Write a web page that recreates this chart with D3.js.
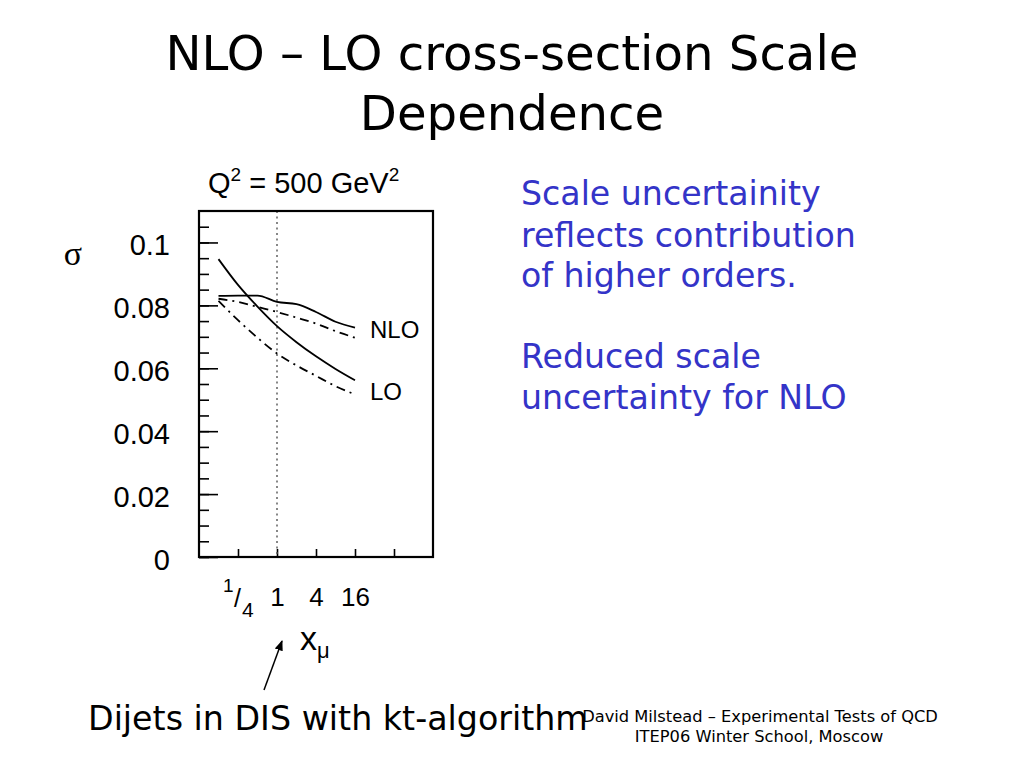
<!DOCTYPE html>
<html>
<head>
<meta charset="utf-8">
<script src="https://cdn.jsdelivr.net/npm/d3@7"></script>
<style>
  html, body { margin: 0; padding: 0; background: #fff; }
  svg { display: block; }
</style>
</head>
<body>
<div id="container"></div>
<script>
// NLO - LO cross-section scale dependence (dijets in DIS, Q^2 = 500 GeV^2)

// ---------------------------------------------------------------------------
// Data
// ---------------------------------------------------------------------------
const xMu       = [1 / 8, 1 / 4, 1 / 2, 1, 2, 4, 8, 16];
const nloSolid  = [0.0830, 0.0831, 0.0831, 0.0811, 0.0804, 0.0779, 0.0748, 0.0729];
const nloDashed = [0.0821, 0.0811, 0.0795, 0.0779, 0.0761, 0.0742, 0.0718, 0.0697];
const loSolid   = [0.0947, 0.0865, 0.0796, 0.0734, 0.0683, 0.0638, 0.0598, 0.0562];
const loDashed  = [0.0814, 0.0753, 0.0697, 0.0647, 0.0609, 0.0576, 0.0543, 0.0517];

const xTicks      = [1 / 4, 1, 4, 16, 64];
const xTickLabels = ['1/4', '1', '4', '16', ''];
const yMajorTicks = [0, 0.02, 0.04, 0.06, 0.08, 0.1];
const yMinorTicks = [0, 0.005, 0.01, 0.015, 0.02, 0.025, 0.03, 0.035, 0.04, 0.045, 0.05,
                     0.055, 0.06, 0.065, 0.07, 0.075, 0.08, 0.085, 0.09, 0.095, 0.1, 0.105];

const blueLines = ['Scale uncertainity', 'reflects contribution', 'of higher orders.',
                   '', 'Reduced scale', 'uncertainty for NLO'];

// ---------------------------------------------------------------------------
// Helpers
// ---------------------------------------------------------------------------
const COMIC = '"Comic Sans MS", "DejaVu Sans", sans-serif';
const HELV  = '"Liberation Sans", Arial, sans-serif';

// shrink/grow a text node's font size so it spans the given width
function fitWidth(sel, target) {
  const w = sel.node().getComputedTextLength();
  const fs = parseFloat(sel.attr('font-size'));
  const size = fs * target / w;
  sel.attr('font-size', size);
  return size;
}

// ---------------------------------------------------------------------------
// Canvas
// ---------------------------------------------------------------------------
const W = 1024, H = 768;
const svg = d3.select('#container').append('svg')
  .attr('width', W).attr('height', H);

// ── Title ─────────────────────────────────────────────────────────────────
const t1 = svg.append('text')
  .attr('x', 512).attr('y', 70)
  .attr('text-anchor', 'middle')
  .attr('font-family', COMIC).attr('font-size', 44)
  .attr('fill', '#000')
  .text('NLO \u2013 LO cross-section Scale');
const titleSize = fitWidth(t1, 693);
svg.append('text')
  .attr('x', 512).attr('y', 130)
  .attr('text-anchor', 'middle')
  .attr('font-family', COMIC).attr('font-size', titleSize)
  .attr('fill', '#000')
  .text('Dependence');

// ── Plot frame & scales ──────────────────────────────────────────────────
const plot = { left: 199, right: 433, top: 211, bottom: 557 };

const x = d3.scaleLog().base(2)
  .domain([1 / 16, 256])
  .range([plot.left, plot.right]);

const y = d3.scaleLinear()
  .domain([0, 0.11])
  .range([plot.bottom, plot.top]);

// minor y ticks (inward, no labels)
const yMinor = svg.append('g')
  .attr('transform', `translate(${plot.left},0)`)
  .call(d3.axisLeft(y).tickValues(yMinorTicks).tickSize(-10).tickFormat(''));
yMinor.select('.domain').remove();
yMinor.selectAll('line').attr('stroke', '#000').attr('stroke-width', 1.6);

// major y ticks with labels
const yMajor = svg.append('g')
  .attr('transform', `translate(${plot.left},0)`)
  .call(d3.axisLeft(y).tickValues(yMajorTicks).tickSize(-19).tickPadding(29)
    .tickFormat(d => d === 0 ? '0' : String(+d.toFixed(2))));
yMajor.select('.domain').remove();
yMajor.selectAll('line').attr('stroke', '#000').attr('stroke-width', 1.6);
yMajor.selectAll('text')
  .attr('font-family', HELV).attr('font-size', 29)
  .attr('fill', '#000').attr('dy', '0.42em');

// x ticks
const xAxis = svg.append('g')
  .attr('transform', `translate(0,${plot.bottom})`)
  .call(d3.axisBottom(x).tickValues(xTicks).tickSize(-8).tickPadding(31)
    .tickFormat((d, i) => (xTickLabels[i] === '1/4' ? '' : xTickLabels[i])));
xAxis.select('.domain').remove();
xAxis.selectAll('line').attr('stroke', '#000').attr('stroke-width', 1.6);
xAxis.selectAll('text')
  .attr('font-family', HELV).attr('font-size', 26).attr('fill', '#000');

// the 1/4 label as a built-up fraction
const qx = x(1 / 4);
const frac = svg.append('g')
  .attr('font-family', HELV).attr('fill', '#000');
frac.append('text').attr('x', qx - 15).attr('y', 592).attr('font-size', 19).text('1');
frac.append('text').attr('x', qx - 4).attr('y', 607).attr('font-size', 25).text('/');
frac.append('text').attr('x', qx + 4).attr('y', 617).attr('font-size', 21).text('4');

// dotted line at x_mu = 1
svg.append('line')
  .attr('x1', x(1)).attr('x2', x(1))
  .attr('y1', plot.top).attr('y2', plot.bottom)
  .attr('stroke', '#555').attr('stroke-width', 1.4)
  .attr('stroke-dasharray', '2,3.5');

// frame
svg.append('rect')
  .attr('x', plot.left).attr('y', plot.top)
  .attr('width', plot.right - plot.left).attr('height', plot.bottom - plot.top)
  .attr('fill', 'none').attr('stroke', '#000').attr('stroke-width', 2.2);

// ── Curves ───────────────────────────────────────────────────────────────
const line = d3.line()
  .x(d => x(d[0]))
  .y(d => y(d[1]))
  .curve(d3.curveMonotoneX);

const curves = [
  { values: nloSolid,  dash: null },
  { values: nloDashed, dash: '9,5,2,5' },
  { values: loSolid,   dash: null },
  { values: loDashed,  dash: '9,5,2,5' },
];

curves.forEach(c => {
  svg.append('path')
    .datum(xMu.map((xv, i) => [xv, c.values[i]]))
    .attr('d', line)
    .attr('fill', 'none')
    .attr('stroke', '#000')
    .attr('stroke-width', 1.8)
    .attr('stroke-dasharray', c.dash);
});

// curve labels
svg.append('text')
  .attr('x', 370).attr('y', 338)
  .attr('font-family', HELV).attr('font-size', 24).attr('fill', '#000')
  .text('NLO');
svg.append('text')
  .attr('x', 370).attr('y', 400)
  .attr('font-family', HELV).attr('font-size', 24).attr('fill', '#000')
  .text('LO');

// header above the frame
const q = svg.append('text')
  .attr('x', 208).attr('y', 193)
  .attr('font-family', HELV).attr('font-size', 29).attr('fill', '#000');
q.append('tspan').text('Q');
q.append('tspan').attr('font-size', 19).attr('dy', -12).text('2');
q.append('tspan').attr('dy', 12).text(' = 500 GeV');
q.append('tspan').attr('font-size', 19).attr('dy', -12).text('2');

// axis titles
svg.append('text')
  .attr('x', 73).attr('y', 265)
  .attr('text-anchor', 'middle')
  .attr('font-family', '"Liberation Serif", "Times New Roman", serif')
  .attr('font-size', 34).attr('fill', '#000')
  .text('\u03c3');

const xl = svg.append('text')
  .attr('x', 300).attr('y', 650)
  .attr('font-family', HELV).attr('font-size', 34).attr('fill', '#000');
xl.append('tspan').text('x');
xl.append('tspan').attr('font-size', 22).attr('dy', 8).text('\u03bc');

// arrow pointing at x_mu = 1
const defs = svg.append('defs');
defs.append('marker')
  .attr('id', 'arrowhead')
  .attr('viewBox', '0 0 10 10')
  .attr('refX', 9).attr('refY', 5)
  .attr('markerWidth', 7).attr('markerHeight', 7)
  .attr('orient', 'auto')
  .append('path')
  .attr('d', 'M0,1 L10,5 L0,9 Z')
  .attr('fill', '#000');
svg.append('line')
  .attr('x1', 264).attr('y1', 690)
  .attr('x2', 282).attr('y2', 641)
  .attr('stroke', '#000').attr('stroke-width', 1.5)
  .attr('marker-end', 'url(#arrowhead)');

// ── Blue commentary ──────────────────────────────────────────────────────
const blue = svg.append('g')
  .attr('font-family', COMIC).attr('fill', '#3434c8');
const blueBase = [205, 247, 287, 0, 368, 409];
const probe = blue.append('text').attr('font-size', 28).text(blueLines[1]);
const blueSize = fitWidth(probe, 335);
probe.remove();
blueLines.forEach((s, i) => {
  if (!s) return;
  blue.append('text')
    .attr('x', 521).attr('y', blueBase[i])
    .attr('font-size', blueSize)
    .text(s);
});

// ── Footer ───────────────────────────────────────────────────────────────
const foot = svg.append('text')
  .attr('x', 88).attr('y', 730)
  .attr('font-family', COMIC).attr('font-size', 32).attr('fill', '#000')
  .text('Dijets in DIS with kt-algorithm');
fitWidth(foot, 500);

const credit1 = svg.append('text')
  .attr('x', 760).attr('y', 722)
  .attr('text-anchor', 'middle')
  .attr('font-family', COMIC).attr('font-size', 16).attr('fill', '#000')
  .text('David Milstead \u2013 Experimental Tests of QCD');
const creditSize = fitWidth(credit1, 356);
svg.append('text')
  .attr('x', 759).attr('y', 742)
  .attr('text-anchor', 'middle')
  .attr('font-family', COMIC).attr('font-size', creditSize).attr('fill', '#000')
  .text('ITEP06 Winter School, Moscow');
</script>
</body>
</html>
